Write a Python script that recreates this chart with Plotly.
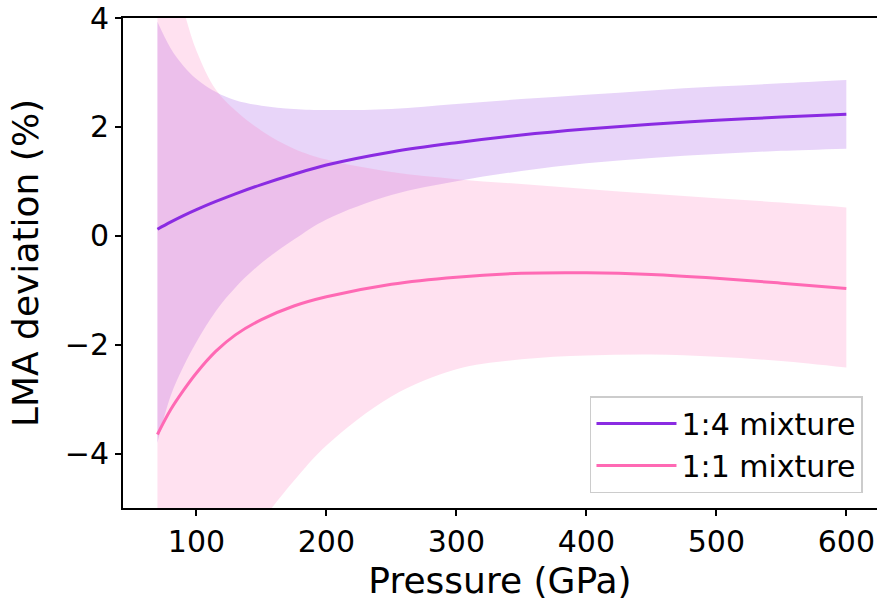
import plotly.graph_objects as go

# Pressure grid (GPa)
pressure = [70, 80, 90, 100, 115, 130, 150, 175, 200, 250, 300, 350, 400, 450, 500, 550, 600]

# 1:4 mixture
mix14_mid = [0.12, 0.25, 0.37, 0.48, 0.63, 0.77, 0.94, 1.13, 1.30, 1.54, 1.71, 1.85, 1.96, 2.05, 2.12, 2.18, 2.23]
mix14_hi = [3.93, 3.45, 3.12, 2.88, 2.64, 2.49, 2.39, 2.33, 2.31, 2.33, 2.42, 2.51, 2.59, 2.67, 2.74, 2.80, 2.86]
mix14_lo = [-3.80, -2.95, -2.40, -1.95, -1.38, -0.95, -0.50, -0.07, 0.30, 0.75, 1.00, 1.19, 1.33, 1.43, 1.50, 1.56, 1.60]

# 1:1 mixture
mix11_mid = [-3.65, -3.20, -2.84, -2.52, -2.12, -1.82, -1.54, -1.29, -1.12, -0.89, -0.76, -0.69, -0.68, -0.71, -0.78, -0.87, -0.97]
mix11_hi = [6.0, 5.0, 4.15, 3.40, 2.68, 2.30, 1.93, 1.60, 1.40, 1.17, 1.04, 0.95, 0.86, 0.77, 0.69, 0.61, 0.52]
mix11_lo = [-9.5, -8.7, -8.0, -7.4, -6.6, -5.95, -5.25, -4.5, -3.85, -2.95, -2.45, -2.27, -2.20, -2.18, -2.22, -2.30, -2.42]

series_names = ["1:4 mixture", "1:1 mixture"]
line_colors = ["#8A2BE2", "#FF69B4"]
fill_colors = ["rgba(138,43,226,0.2)", "rgba(255,105,180,0.2)"]

FONT = "DejaVu Sans"

fig = go.Figure()

bands = [(mix14_lo, mix14_hi), (mix11_lo, mix11_hi)]
for (lo, hi), fc in zip(bands, fill_colors):
    fig.add_trace(go.Scatter(x=pressure, y=lo, mode="lines", line=dict(width=0, shape="spline"),
                             showlegend=False, hoverinfo="skip"))
    fig.add_trace(go.Scatter(x=pressure, y=hi, mode="lines", line=dict(width=0, shape="spline"),
                             fill="tonexty", fillcolor=fc, showlegend=False, hoverinfo="skip"))

for mid, name, lc in zip([mix14_mid, mix11_mid], series_names, line_colors):
    fig.add_trace(go.Scatter(x=pressure, y=mid, mode="lines", name=name, legendgroup=name,
                             line=dict(color=lc, width=3, shape="spline")))

fig.update_layout(
    width=877, height=601,
    margin=dict(l=123, r=0, t=18, b=93),
    paper_bgcolor="white", plot_bgcolor="white",
    font=dict(family=FONT, color="black", size=30),
    showlegend=True,
    legend=dict(
        x=0.9814, y=0.0306, xanchor="right", yanchor="bottom",
        traceorder="normal",
        bgcolor="rgba(255,255,255,0.8)", bordercolor="#cccccc", borderwidth=1.5,
        font=dict(family=FONT, size=30, color="black"),
        itemwidth=80, tracegroupgap=9,
    ),
    xaxis=dict(
        range=[43.5, 623.6], tickvals=[100, 200, 300, 400, 500, 600],
        showline=True, linecolor="black", linewidth=2, mirror=True,
        ticks="outside", ticklen=6, tickwidth=2, tickcolor="black",
        showgrid=False, zeroline=False,
        tickfont=dict(family=FONT, size=30, color="black"),
        title=dict(text="Pressure (GPa)", font=dict(family=FONT, size=36, color="black"), standoff=10),
    ),
    yaxis=dict(
        range=[-5, 4], tickvals=[-4, -2, 0, 2, 4],
        showline=True, linecolor="black", linewidth=2, mirror=False,
        ticks="outside", ticklen=6, tickwidth=2, tickcolor="black",
        showgrid=False, zeroline=False,
        tickfont=dict(family=FONT, size=30, color="black"),
        title=dict(text="LMA deviation (%)", font=dict(family=FONT, size=36, color="black"), standoff=15),
    ),
)

fig.write_html("out.html")
